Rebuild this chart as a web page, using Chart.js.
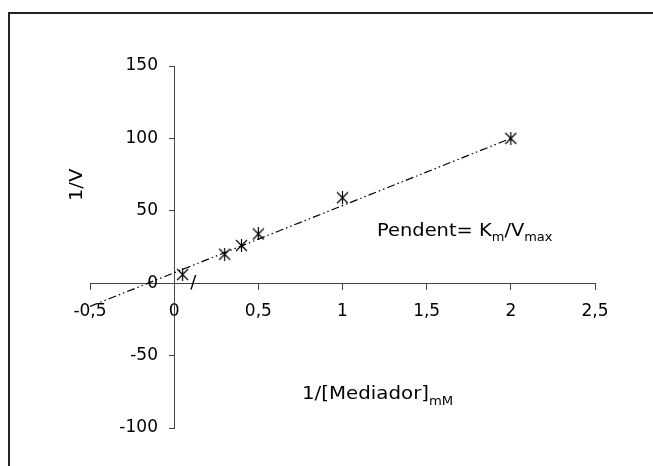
<!DOCTYPE html>
<html>
<head>
<meta charset="utf-8">
<script src="https://cdn.jsdelivr.net/npm/chart.js@4"></script>
<style>
  html, body { margin: 0; padding: 0; background: #fff; }
  #wrap { width: 653px; height: 466px; }
</style>
</head>
<body>
<div id="wrap"><canvas id="grafico"></canvas></div>
<script>
// =====================================================
// DATOS
// =====================================================
const puntosX = [0.05, 0.3, 0.4, 0.5, 1, 2];
const puntosY = [6, 20, 26, 34, 59, 100];
const tendenciaX = [-0.5, 2];
const tendenciaY = [-16, 100];
const ticksX = [-0.5, 0, 0.5, 1, 1.5, 2, 2.5];
const ticksY = [-100, -50, 0, 50, 100, 150];

const FUENTE = "'DejaVu Sans', Verdana, sans-serif";

// marcador tipo asterisco de Excel (X + linea vertical)
function crearMarcador() {
  const c = document.createElement("canvas");
  c.width = 13; c.height = 13;
  const ctx = c.getContext("2d");
  ctx.strokeStyle = "#000";
  ctx.lineWidth = 1.2;
  ctx.beginPath();
  ctx.moveTo(1, 1); ctx.lineTo(12, 12);
  ctx.moveTo(12, 1); ctx.lineTo(1, 12);
  ctx.moveTo(6.5, 0); ctx.lineTo(6.5, 13);
  ctx.stroke();
  return c;
}

// texto con estiramiento horizontal (el original es algo mas ancho)
function textoAncho(ctx, t, x, y, tam, k) {
  ctx.save();
  ctx.font = tam + "px " + FUENTE;
  ctx.translate(x, y);
  ctx.scale(k, 1);
  ctx.fillText(t, 0, 0);
  const w = ctx.measureText(t).width * k;
  ctx.restore();
  return w;
}

// marco, titulos de ejes y anotacion
const textos = {
  id: "textos",
  beforeDraw(chart) {
    const ctx = chart.ctx;
    ctx.save();
    ctx.strokeStyle = "#222";
    ctx.lineWidth = 2;
    ctx.strokeRect(9, 13, 700, 500);
    ctx.restore();
  },
  afterDraw(chart) {
    const ctx = chart.ctx;
    const sx = chart.scales.x, sy = chart.scales.y;
    ctx.save();
    ctx.fillStyle = "#000";
    ctx.textBaseline = "alphabetic";
    ctx.textAlign = "left";

    // titulo eje Y
    ctx.save();
    ctx.translate(82, 201);
    ctx.rotate(-Math.PI / 2);
    textoAncho(ctx, "1/V", 0, 0, 18, 1.08);
    ctx.restore();

    // titulo eje X con subindice
    let x = 302;
    x += textoAncho(ctx, "1/[Mediador]", x, 399, 18, 1.1);
    textoAncho(ctx, "mM", x, 405, 12, 1.1);

    // anotacion de la pendiente
    x = 377;
    const partes = [["Pendent= K", 18, 0], ["m", 12, 5], ["/V", 18, 0], ["max", 12, 5]];
    partes.forEach(([t, tam, dy]) => {
      x += textoAncho(ctx, t, x, 236 + dy, tam, 1.08);
    });

    // barra junto al primer punto
    ctx.font = "18px " + FUENTE;
    ctx.textAlign = "center";
    ctx.fillText("/", sx.getPixelForValue(0.113), sy.getPixelForValue(-3));
    ctx.restore();
  }
};

function cargarGrafico() {
  const marcador = crearMarcador();
  const formato = v => String(v).replace(".", ",");

  new Chart(document.getElementById("grafico"), {
    type: "scatter",
    data: {
      datasets: [{
        label: "Datos",
        data: puntosX.map((x, i) => ({ x, y: puntosY[i] })),
        pointStyle: marcador,
        pointRadius: 6
      }, {
        label: "Tendencia",
        data: tendenciaX.map((x, i) => ({ x, y: tendenciaY[i] })),
        showLine: true,
        borderColor: "#000",
        borderWidth: 1.2,
        borderDash: [8, 3, 1.5, 3, 1.5, 3],
        pointRadius: 0
      }]
    },
    options: {
      responsive: true,
      maintainAspectRatio: false,
      animation: false,
      layout: { padding: { left: 90, right: 58, top: 66, bottom: 38 } },
      plugins: { legend: { display: false }, tooltip: { enabled: false } },
      scales: {
        x: {
          type: "linear",
          position: { y: 0 },
          min: -0.5, max: 2.5,
          afterBuildTicks: s => { s.ticks = ticksX.map(v => ({ value: v })); },
          ticks: { color: "#000", font: { family: FUENTE, size: 17 }, padding: 12, callback: formato, maxRotation: 0 },
          grid: { drawOnChartArea: false, drawTicks: true, tickLength: 6, color: "#444" },
          border: { color: "#444", width: 1 }
        },
        y: {
          type: "linear",
          position: { x: 0 },
          min: -100, max: 150,
          afterBuildTicks: s => { s.ticks = ticksY.map(v => ({ value: v })); },
          // el eje dinamico no aplica padding: se separa con espacios
          ticks: { color: "#000", font: { family: FUENTE, size: 17 }, callback: v => formato(v) + "   " },
          grid: { drawOnChartArea: false, drawTicks: true, tickLength: 5, color: "#444" },
          border: { color: "#444", width: 1 }
        }
      }
    },
    plugins: [textos]
  });
}

cargarGrafico();
</script>
</body>
</html>
